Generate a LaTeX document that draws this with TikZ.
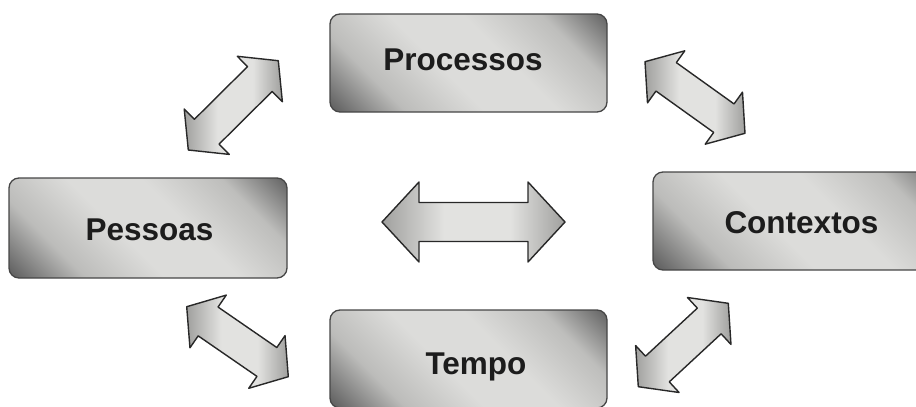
\documentclass[tikz,border=0pt]{standalone}
\usepackage{fontspec}
\setmainfont{Liberation Sans}
\usetikzlibrary{calc}
\definecolor{mA}{RGB}{100,100,100}
\definecolor{mB}{RGB}{188,188,186}
\definecolor{mC}{RGB}{220,220,218}
\definecolor{mD}{RGB}{190,190,188}
\definecolor{boxline}{RGB}{70,70,70}
\definecolor{arrline}{RGB}{40,40,40}
\definecolor{arrend}{RGB}{160,160,158}
\definecolor{arrmid}{RGB}{226,226,224}
\definecolor{txt}{RGB}{28,28,28}
\pgfdeclarehorizontalshading{metal}{100bp}{color(0bp)=(mA); color(16bp)=(mA); color(29bp)=(mB); color(44bp)=(mC); color(58bp)=(mC); color(73bp)=(mD); color(85bp)=(mA); color(100bp)=(mA)}
\pgfdeclarehorizontalshading{arrsh}{100bp}{color(0bp)=(arrend); color(25bp)=(arrend); color(42bp)=(arrmid); color(60bp)=(arrmid); color(75bp)=(arrend); color(100bp)=(arrend)}
\tikzset{
  box/.style={draw=boxline, line width=1.3pt, rounded corners=10pt, shading=metal, shading angle=45, inner sep=0pt},
  lbl/.style={font=\fontsize{31.5}{38}\selectfont\bfseries, text=txt, inner sep=0pt, anchor=base},
  arrowsty/.style={draw=arrline, line width=1.4pt, line join=round, shading=arrsh, shading angle=0}
}
\newcommand\ah{26}
\newcommand\aw{32}
\newcommand\as{17.5}
\newcommand\dblarr[2]{%
  \draw[arrowsty] (#1)
    -- ($(#1)!\ah pt!(#2)!\aw pt!90:(#2)$)
    -- ($(#1)!\ah pt!(#2)!\as pt!90:(#2)$)
    -- ($(#2)!\ah pt!(#1)!\as pt!270:(#1)$)
    -- ($(#2)!\ah pt!(#1)!\aw pt!270:(#1)$)
    -- (#2)
    -- ($(#2)!\ah pt!(#1)!\aw pt!90:(#1)$)
    -- ($(#2)!\ah pt!(#1)!\as pt!90:(#1)$)
    -- ($(#1)!\ah pt!(#2)!\as pt!270:(#2)$)
    -- ($(#1)!\ah pt!(#2)!\aw pt!270:(#2)$)
    -- cycle;}
\begin{document}
\begin{tikzpicture}[x=1pt,y=-1pt]
\useasboundingbox (0,0) rectangle (916,407);
\clip (0,0) rectangle (916,407);
% boxes
\node[box, minimum width=277pt, minimum height=98pt] (proc) at (468.5,63) {};
\node[lbl] (proc-t) at (463,70) {Processos};
\node[box, minimum width=278pt, minimum height=100pt] (pess) at (148,228) {};
\node[lbl] (pess-t) at (149.5,240) {Pessoas};
\node[box, minimum width=297pt, minimum height=98pt] (cont) at (801.5,221) {};
\node[lbl] (cont-t) at (801.5,233) {Contextos};
\node[box, minimum width=277pt, minimum height=98pt] (temp) at (468.5,359) {};
\node[lbl] (temp-t) at (476,374) {Tempo};
% arrow end points
\coordinate (c1) at (382,222);
\coordinate (c2) at (565,222);
\coordinate (a1s) at (188.3,150);
\coordinate (a1e) at (278.3,60.7);
\coordinate (a2s) at (645,61.7);
\coordinate (a2e) at (745,133.3);
\coordinate (a3s) at (186.7,306.7);
\coordinate (a3e) at (288.3,376.7);
\coordinate (a4s) at (638.3,386.7);
\coordinate (a4e) at (728.3,303.3);
\dblarr{a1s}{a1e}
\dblarr{a2s}{a2e}
\dblarr{a3s}{a3e}
\dblarr{a4s}{a4e}
\renewcommand\ah{37}
\renewcommand\aw{40}
\renewcommand\as{19.5}
\dblarr{c1}{c2}
\end{tikzpicture}
\end{document}
